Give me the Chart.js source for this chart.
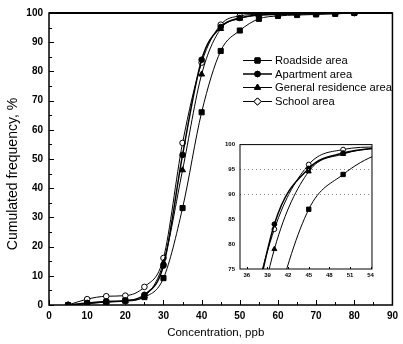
<!DOCTYPE html>
<html>
<head>
<meta charset="utf-8">
<script src="https://cdn.jsdelivr.net/npm/chart.js@4/dist/chart.umd.min.js"></script>
<style>
html,body{margin:0;padding:0;background:#fff;}
#wrap{position:relative;width:403px;height:344px;overflow:hidden;background:#fff;}
#main{position:absolute;left:0;top:0;}
#inset{position:absolute;left:222px;top:136px;}
</style>
</head>
<body>
<div id="wrap">
<canvas id="main" width="403" height="344"></canvas>
<canvas id="inset" width="155" height="146"></canvas>
</div>
<script>
// ---- data ----
const concentrations = [5, 10, 15, 20, 25, 30, 35, 40, 45, 50, 55, 60, 65, 70, 75, 80];
const roadside  = [0, 0.5, 1.0, 1.5, 2.7, 9.2, 33.2, 66.0, 87.0, 94.0, 98.0, 99.0, 99.3, 99.5, 99.7, 100];
const apartment = [0, 0.7, 1.2, 1.5, 3.5, 13.5, 51.4, 84.0, 95.2, 98.3, 99.3, 99.5, 99.7, 99.8, 100, 100];
const general   = [0, 0.5, 1.0, 1.3, 3.0, 14.5, 46.2, 79.0, 94.6, 98.1, 99.3, 99.5, 99.7, 99.8, 100, 100];
const school    = [0, 2.0, 3.0, 3.2, 6.2, 16.1, 55.5, 83.0, 96.0, 99.0, 99.5, 99.5, 99.7, 99.8, 100, 100];
const seriesNames = ['Roadside area', 'Apartment area', 'General residence area', 'School area'];

const xTicksMain = [0, 10, 20, 30, 40, 50, 60, 70, 80, 90];
const yTicksMain = [0, 10, 20, 30, 40, 50, 60, 70, 80, 90, 100];
const xTicksInset = [36, 39, 42, 45, 48, 51, 54];
const yTicksInset = [75, 80, 85, 90, 95, 100];
const insetGridLines = [90, 95];

const xTitle = 'Concentration, ppb';
const yTitle = 'Cumulated frequency, %';

// ---- helpers ----
const FONT = '"Liberation Sans", Arial, Helvetica, sans-serif';
function pts(arr) { return concentrations.map((x, i) => ({ x: x, y: arr[i] })); }

const styles = [
  { pointStyle: 'rect', fill: '#000', radius: 3.6, width: 1 },
  { pointStyle: 'circle', fill: '#000', radius: 2.8, width: 1.5 },
  { pointStyle: 'triangle', fill: '#000', radius: 3.4, width: 1 },
  { pointStyle: 'circle', fill: '#fff', radius: 2.8, width: 1 }
];
const seriesData = [roadside, apartment, general, school];

function makeDatasets(scale) {
  return seriesData.map((arr, i) => ({
    label: seriesNames[i],
    data: pts(arr),
    borderColor: '#000',
    borderWidth: styles[i].width,
    pointStyle: styles[i].pointStyle,
    pointRadius: styles[i].radius * scale,
    pointBackgroundColor: styles[i].fill,
    pointBorderColor: '#000',
    pointBorderWidth: 1,
    cubicInterpolationMode: 'monotone',
    fill: false
  }));
}

function setTicks(values) {
  return function (scale) { scale.ticks = values.map(v => ({ value: v })); };
}

// frame + inward ticks plugin
const framePlugin = {
  id: 'frame',
  afterDatasetsDraw(chart, args, o) {
    const ctx = chart.ctx, a = chart.chartArea;
    const xs = chart.scales.x, ys = chart.scales.y;
    ctx.save();
    ctx.strokeStyle = '#000';
    if (o.gridY) {
      ctx.save();
      ctx.strokeStyle = '#888';
      ctx.lineWidth = 1;
      ctx.setLineDash([1, 3]);
      o.gridY.forEach(v => {
        const y = Math.round(ys.getPixelForValue(v)) + 0.5;
        ctx.beginPath(); ctx.moveTo(a.left, y); ctx.lineTo(a.right, y); ctx.stroke();
      });
      ctx.restore();
    }
    ctx.lineWidth = o.lineWidth;
    ctx.strokeRect(a.left, a.top, a.right - a.left, a.bottom - a.top);
    if (o.topWidth) {
      ctx.lineWidth = o.topWidth;
      ctx.beginPath(); ctx.moveTo(a.left, a.top); ctx.lineTo(a.right, a.top); ctx.stroke();
    }
    ctx.lineWidth = 1;
    const tick = (vals, len, axis) => {
      vals.forEach(v => {
        ctx.beginPath();
        if (axis === 'x') {
          const x = Math.round(xs.getPixelForValue(v)) + 0.5;
          ctx.moveTo(x, a.bottom); ctx.lineTo(x, a.bottom - len);
        } else {
          const y = Math.round(ys.getPixelForValue(v)) + 0.5;
          ctx.moveTo(a.left, y); ctx.lineTo(a.left + len, y);
        }
        ctx.stroke();
      });
    };
    tick(o.majorX || [], o.majorLen, 'x');
    tick(o.majorY || [], o.majorLen, 'y');
    tick(o.minorX || [], o.minorLen, 'x');
    tick(o.minorY || [], o.minorLen, 'y');
    ctx.restore();
  }
};

// axis titles + legend for main chart
const decoPlugin = {
  id: 'deco',
  afterDraw(chart) {
    const ctx = chart.ctx, a = chart.chartArea;
    ctx.save();
    ctx.fillStyle = '#000';
    ctx.font = '11.5px ' + FONT;
    ctx.textAlign = 'center';
    ctx.textBaseline = 'middle';
    ctx.fillText(xTitle, (a.left + a.right) / 2 - 5, 333);
    ctx.save();
    ctx.translate(13, 174);
    ctx.rotate(-Math.PI / 2);
    ctx.font = '14px ' + FONT;
    ctx.fillText(yTitle, 0, 0);
    ctx.restore();

    // legend
    const rows = [60, 73.5, 87, 101];
    ctx.font = '11.2px ' + FONT;
    ctx.textAlign = 'left';
    seriesNames.forEach((name, i) => {
      const y = rows[i];
      ctx.strokeStyle = '#000';
      ctx.lineWidth = styles[i].width;
      ctx.beginPath(); ctx.moveTo(243, y + 0.5); ctx.lineTo(272, y + 0.5); ctx.stroke();
      ctx.lineWidth = 1;
      const st = i === 3 ? 'rectRot' : styles[i].pointStyle;
      ctx.fillStyle = styles[i].fill;
      Chart.helpers.drawPoint(ctx, { pointStyle: st, radius: i === 3 ? 3.6 : styles[i].radius, borderWidth: 1 }, 257.5, y + 0.5);
      ctx.fill();
      ctx.stroke();
      ctx.fillStyle = '#000';
      ctx.fillText(name, 275, y + 1);
    });
    ctx.restore();
  }
};

Chart.defaults.font.family = FONT;
Chart.defaults.color = '#000';

new Chart(document.getElementById('main'), {
  type: 'line',
  data: { datasets: makeDatasets(1) },
  options: {
    responsive: false,
    animation: false,
    devicePixelRatio: 1,
    layout: { padding: { left: 0, top: 13, right: 6, bottom: 0 } },
    plugins: {
      legend: { display: false },
      tooltip: { enabled: false },
      frame: {
        lineWidth: 1.5, topWidth: 2.2, majorLen: 5, minorLen: 3,
        majorX: xTicksMain, majorY: yTicksMain,
        minorX: xTicksMain.slice(0, -1).map(v => v + 5),
        minorY: yTicksMain.slice(0, -1).map(v => v + 5)
      }
    },
    scales: {
      x: {
        type: 'linear', min: 0, max: 90,
        afterBuildTicks: setTicks(xTicksMain),
        afterFit(s) { s.height = 39; },
        grid: { display: false, drawTicks: false },
        border: { display: false },
        ticks: { padding: 5, font: { size: 10, weight: 'bold' }, maxRotation: 0, autoSkip: false }
      },
      y: {
        type: 'linear', min: 0, max: 100,
        afterBuildTicks: setTicks(yTicksMain),
        afterFit(s) { s.width = 49; },
        grid: { display: false, drawTicks: false },
        border: { display: false },
        ticks: { padding: 6, font: { size: 10, weight: 'bold' }, autoSkip: false }
      }
    }
  },
  plugins: [framePlugin, decoPlugin]
});

new Chart(document.getElementById('inset'), {
  type: 'line',
  data: { datasets: makeDatasets(0.85) },
  options: {
    responsive: false,
    animation: false,
    devicePixelRatio: 1,
    layout: { padding: { left: 0, top: 5, right: 5, bottom: 0 } },
    plugins: {
      legend: { display: false },
      tooltip: { enabled: false },
      frame: {
        lineWidth: 1, majorLen: 2, minorLen: 0,
        majorX: xTicksInset, gridY: insetGridLines
      }
    },
    scales: {
      x: {
        type: 'linear', min: 35, max: 54.2,
        afterBuildTicks: setTicks(xTicksInset),
        afterFit(s) { s.height = 13; },
        grid: { display: false, drawTicks: false },
        border: { display: false },
        ticks: { padding: 3, font: { size: 6, weight: 'bold' }, maxRotation: 0, autoSkip: false }
      },
      y: {
        type: 'linear', min: 75, max: 100,
        afterBuildTicks: setTicks(yTicksInset),
        afterFit(s) { s.width = 18; },
        grid: { display: false, drawTicks: false },
        border: { display: false },
        ticks: { padding: 5, font: { size: 6, weight: 'bold' }, autoSkip: false }
      }
    }
  },
  plugins: [framePlugin]
});
</script>
</body>
</html>
